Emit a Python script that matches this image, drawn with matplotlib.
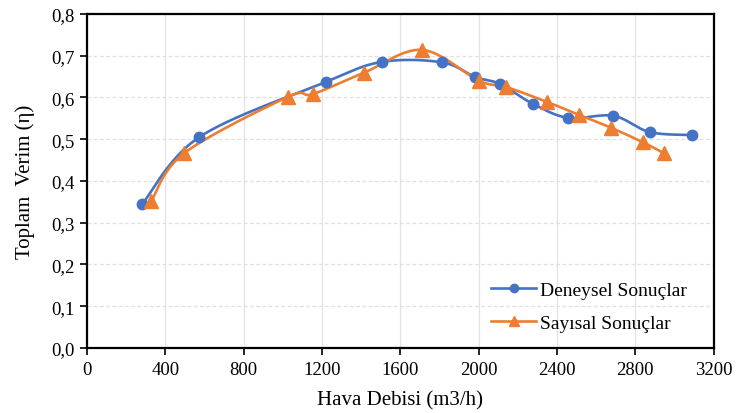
import numpy as np
import matplotlib
matplotlib.use("Agg")
import matplotlib.pyplot as plt
from matplotlib.ticker import FuncFormatter, MultipleLocator

# Deneysel (experimental) results
deney_x = [282, 573, 1219, 1505, 1813, 1982, 2110, 2279, 2458, 2688, 2873, 3088]
deney_y = [0.345, 0.505, 0.637, 0.685, 0.684, 0.649, 0.632, 0.584, 0.551, 0.556, 0.517, 0.510]

# Sayisal (numerical) results
sayi_x = [328, 497, 1024, 1152, 1413, 1710, 2002, 2140, 2350, 2514, 2678, 2837, 2944]
sayi_y = [0.352, 0.467, 0.601, 0.608, 0.659, 0.714, 0.640, 0.625, 0.589, 0.558, 0.527, 0.493, 0.467]

BLUE = "#4472C4"
ORANGE = "#ED7D31"


def smooth(xs, ys, n=30):
    """Catmull-Rom style smoothing, like Excel's smoothed line."""
    p = np.column_stack([xs, ys]).astype(float)
    p = np.vstack([p[0], p, p[-1]])
    out = []
    t = np.linspace(0, 1, n)[:, None]
    for i in range(1, len(p) - 2):
        p0, p1, p2, p3 = p[i - 1], p[i], p[i + 1], p[i + 2]
        c1 = p1 + (p2 - p0) / 6
        c2 = p2 - (p3 - p1) / 6
        seg = ((1 - t) ** 3) * p1 + 3 * ((1 - t) ** 2) * t * c1 + 3 * (1 - t) * t ** 2 * c2 + t ** 3 * p2
        out.append(seg)
    out = np.vstack(out)
    return out[:, 0], out[:, 1]


plt.rcParams["font.family"] = ["Liberation Serif", "DejaVu Serif"]

fig = plt.figure(figsize=(7.38, 4.14), dpi=100)
ax = fig.add_axes([0.118, 0.157, 0.849, 0.807])

for xs, ys, c, m, ms, lab in [
    (deney_x, deney_y, BLUE, "o", 7.5, "Deneysel Sonuçlar"),
    (sayi_x, sayi_y, ORANGE, "^", 9.5, "Sayısal Sonuçlar"),
]:
    sx, sy = smooth(xs, ys)
    ax.plot(sx, sy, color=c, lw=1.9, zorder=3)
    ax.plot(xs, ys, ls="none", marker=m, ms=ms, color=c, zorder=4)
    ax.plot([], [], color=c, lw=1.9, marker=m, ms=ms * 0.8, label=lab)

ax.set_xlim(0, 3200)
ax.set_ylim(0, 0.8)
ax.xaxis.set_major_locator(MultipleLocator(400))
ax.yaxis.set_major_locator(MultipleLocator(0.1))
ax.yaxis.set_major_formatter(FuncFormatter(lambda v, _: f"{v:.1f}".replace(".", ",")))

ax.grid(axis="x", color="#e3e3e3", lw=0.9)
ax.grid(axis="y", color="#e0e0e0", lw=0.9, ls=(0, (3, 2)))
ax.set_axisbelow(True)

for s in ax.spines.values():
    s.set_linewidth(1.6)
    s.set_color("black")
ax.tick_params(direction="out", length=5, width=1.2, labelsize=13.5, colors="black", pad=4)

ax.set_xlabel("Hava Debisi (m3/h)", fontsize=15, labelpad=9)
ax.set_ylabel("Toplam  Verim (η)", fontsize=15, labelpad=12)

ax.legend(loc="lower right", bbox_to_anchor=(0.985, -0.005), frameon=False, fontsize=14,
          handlelength=2.3, handletextpad=0.2, labelspacing=0.8)

fig.savefig("out.png", dpi=100)
